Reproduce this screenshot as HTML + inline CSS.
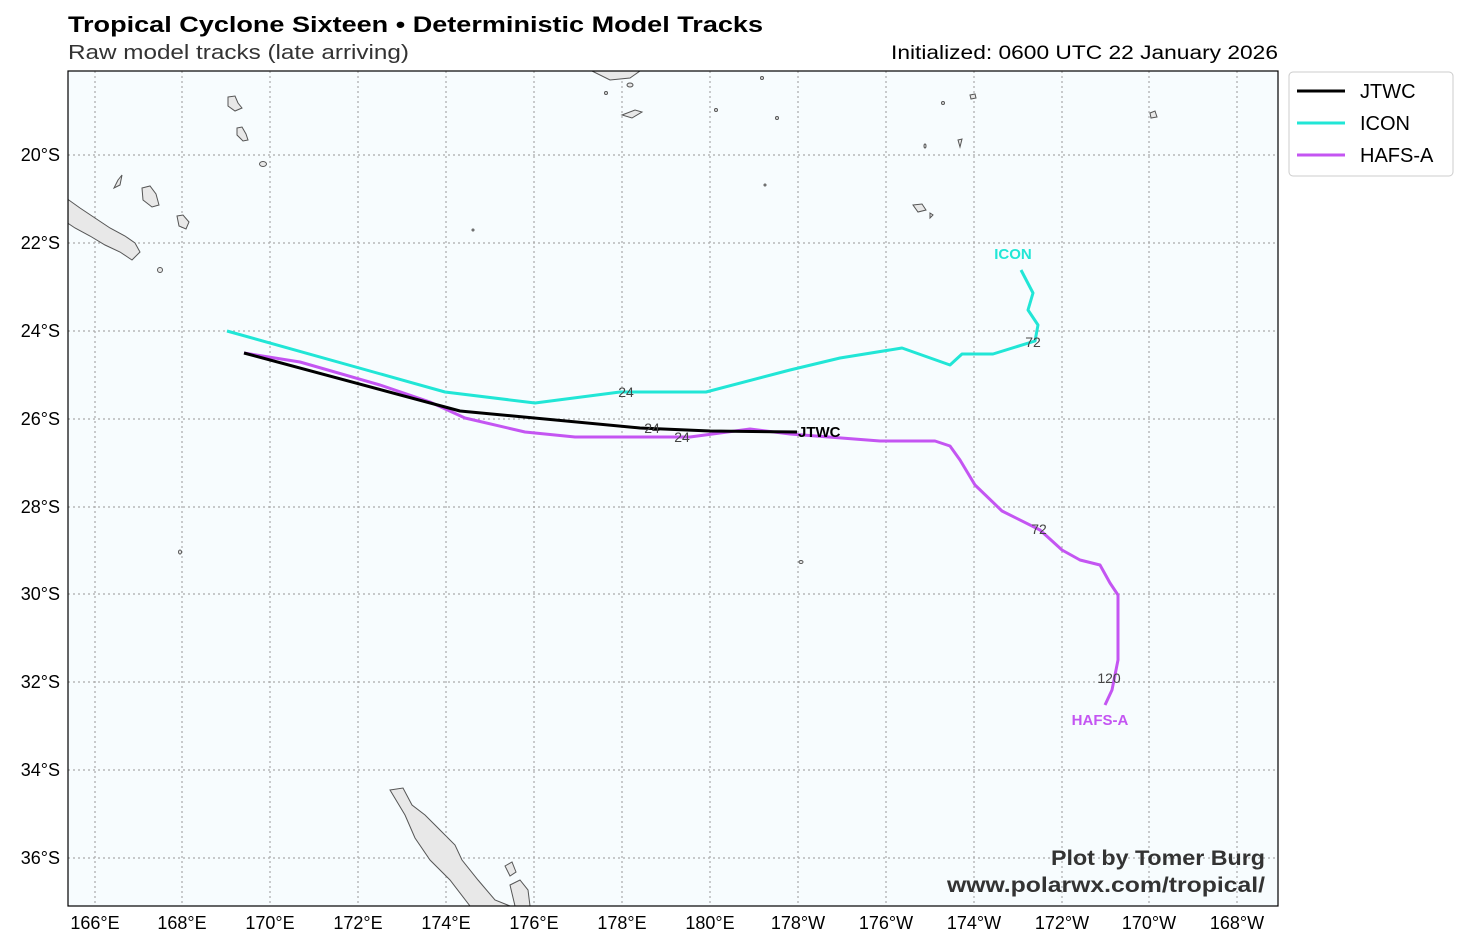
<!DOCTYPE html>
<html><head><meta charset="utf-8"><style>
body{margin:0;background:#fff;width:1465px;height:946px;overflow:hidden;font-family:"Liberation Sans",sans-serif}
</style></head><body>
<svg width="1465" height="946" xmlns="http://www.w3.org/2000/svg" font-family="Liberation Sans, sans-serif">
<text x="68" y="32" font-size="22" font-weight="bold" fill="#000" textLength="695" lengthAdjust="spacingAndGlyphs">Tropical Cyclone Sixteen • Deterministic Model Tracks</text>
<text x="68" y="59" font-size="20" fill="#333" textLength="341" lengthAdjust="spacingAndGlyphs">Raw model tracks (late arriving)</text>
<text x="891" y="59" font-size="19" fill="#000" textLength="387" lengthAdjust="spacingAndGlyphs">Initialized: 0600 UTC 22 January 2026</text>
<defs><clipPath id="c"><rect x="68" y="71" width="1210" height="835"/></clipPath></defs>
<rect x="68" y="71" width="1210" height="835" fill="#f7fcfe"/>
<g clip-path="url(#c)">
<g stroke="#aaa" stroke-width="1.2" stroke-dasharray="2,3">
<line x1="95" y1="71" x2="95" y2="906"/><line x1="182" y1="71" x2="182" y2="906"/><line x1="270" y1="71" x2="270" y2="906"/><line x1="358" y1="71" x2="358" y2="906"/><line x1="446" y1="71" x2="446" y2="906"/><line x1="534" y1="71" x2="534" y2="906"/><line x1="622" y1="71" x2="622" y2="906"/><line x1="710" y1="71" x2="710" y2="906"/><line x1="798" y1="71" x2="798" y2="906"/><line x1="886" y1="71" x2="886" y2="906"/><line x1="974" y1="71" x2="974" y2="906"/><line x1="1062" y1="71" x2="1062" y2="906"/><line x1="1149" y1="71" x2="1149" y2="906"/><line x1="1237" y1="71" x2="1237" y2="906"/>
<line x1="68" y1="155" x2="1278" y2="155"/><line x1="68" y1="243" x2="1278" y2="243"/><line x1="68" y1="331" x2="1278" y2="331"/><line x1="68" y1="419" x2="1278" y2="419"/><line x1="68" y1="507" x2="1278" y2="507"/><line x1="68" y1="594" x2="1278" y2="594"/><line x1="68" y1="682" x2="1278" y2="682"/><line x1="68" y1="770" x2="1278" y2="770"/><line x1="68" y1="858" x2="1278" y2="858"/>
</g>
<g fill="#e8e8e8" stroke="#555" stroke-width="1">
<path d="M66,198 L80,208 L95,218 L110,228 L125,236 L135,243 L140,252 L132,260 L120,252 L105,245 L90,236 L75,228 L66,222Z"/>
<path d="M228,97 L235,96 L238,103 L242,108 L235,111 L228,106Z"/>
<path d="M237,128 L242,127 L246,134 L248,140 L243,141 L237,135Z"/>
<ellipse cx="263" cy="164" rx="3.5" ry="2.5"/>
<path d="M142,188 L150,186 L156,194 L159,205 L152,207 L143,200Z"/>
<path d="M177,216 L183,215 L189,222 L186,229 L179,226Z"/>
<path d="M118,180 L122,175 L120,185 L114,188Z"/>
<ellipse cx="160" cy="270" rx="2.5" ry="2.5"/>
<path d="M390,790 L403,788 L412,805 L425,815 L440,830 L455,845 L462,860 L478,880 L495,900 L510,906 L470,906 L450,880 L430,860 L415,838 L405,815 L396,800Z"/>
<path d="M505,866 L512,862 L516,872 L510,876Z"/>
<path d="M510,885 L520,880 L528,890 L530,906 L515,906Z"/>
<path d="M592,71 L640,71 L630,78 L610,80Z"/>
<path d="M622,115 L635,110 L642,112 L632,118Z"/>
<ellipse cx="630" cy="85" rx="3" ry="2"/>
<path d="M913,205 L922,204 L926,210 L918,212Z"/>
<path d="M930,213 L933,215 L930,218Z"/>
<path d="M970,95 L975,94 L976,98 L971,99Z"/>
<path d="M1150,113 L1155,111 L1157,117 L1151,118Z"/>
<path d="M958,140 L962,139 L960,147Z"/>
<ellipse cx="943" cy="103" rx="1.5" ry="1.5"/><ellipse cx="762" cy="78" rx="1.5" ry="1.5"/><ellipse cx="716" cy="110" rx="1.5" ry="1.5"/><ellipse cx="801" cy="562" rx="2" ry="1.5"/><ellipse cx="180" cy="552" rx="1.5" ry="2"/><ellipse cx="606" cy="93" rx="1.5" ry="1.5"/><ellipse cx="777" cy="118" rx="1.5" ry="1.5"/><ellipse cx="765" cy="185" rx="1" ry="1"/><ellipse cx="473" cy="230" rx="1" ry="1"/><ellipse cx="925" cy="146" rx="1" ry="2"/>
</g>
<g fill="none" stroke-width="3" stroke-linejoin="round">
<polyline stroke="#21e6d6" points="227,331 445,392 535,403 620,392 706,392 790,370 840,358 902,348 950,365 962,354 993,354 1035,341 1038,325 1028,310 1033,293 1021,270"/>
<polyline stroke="#c455f2" points="244,353 300,362 380,385 430,402 465,418 525,432 575,437 690,437 750,429 790,434 880,441 935,441 950,446 960,460 975,485 1002,511 1040,530 1062,550 1080,560 1100,565 1110,583 1118,595 1118,660 1112,690 1105,705"/>
<polyline stroke="#000" points="244,353 460,411 640,428 710,431 797,432"/>
</g>
<g font-size="14" fill="#444" text-anchor="middle">
<text x="626" y="397">24</text><text x="652" y="433">24</text><text x="682" y="442">24</text><text x="1033" y="347">72</text><text x="1039" y="534">72</text><text x="1109" y="683">120</text>
</g>
<text x="798" y="437" font-size="15" font-weight="bold" fill="#000">JTWC</text>
<text x="1013" y="259" font-size="15" font-weight="bold" fill="#21e6d6" text-anchor="middle">ICON</text>
<text x="1100" y="725" font-size="15" font-weight="bold" fill="#c455f2" text-anchor="middle">HAFS-A</text>
<text x="1265" y="865" font-size="21" font-weight="bold" fill="#333" text-anchor="end" textLength="214" lengthAdjust="spacingAndGlyphs">Plot by Tomer Burg</text>
<text x="1265" y="892" font-size="21" font-weight="bold" fill="#333" text-anchor="end" textLength="318" lengthAdjust="spacingAndGlyphs">www.polarwx.com/tropical/</text>
</g>
<rect x="68" y="71" width="1210" height="835" fill="none" stroke="#000" stroke-width="1.2"/>
<g font-size="18" fill="#000" text-anchor="end">
<text x="60" y="161">20°S</text><text x="60" y="249">22°S</text><text x="60" y="337">24°S</text><text x="60" y="425">26°S</text><text x="60" y="513">28°S</text><text x="60" y="600">30°S</text><text x="60" y="688">32°S</text><text x="60" y="776">34°S</text><text x="60" y="864">36°S</text>
</g>
<g font-size="18" fill="#000" text-anchor="middle">
<text x="95" y="929">166°E</text><text x="182" y="929">168°E</text><text x="270" y="929">170°E</text><text x="358" y="929">172°E</text><text x="446" y="929">174°E</text><text x="534" y="929">176°E</text><text x="622" y="929">178°E</text><text x="710" y="929">180°E</text><text x="798" y="929">178°W</text><text x="886" y="929">176°W</text><text x="974" y="929">174°W</text><text x="1062" y="929">172°W</text><text x="1149" y="929">170°W</text><text x="1237" y="929">168°W</text>
</g>
<rect x="1289" y="72" width="164" height="104" rx="4" fill="#fff" stroke="#ccc"/>
<line x1="1297" y1="91" x2="1345" y2="91" stroke="#000" stroke-width="3"/>
<line x1="1297" y1="123" x2="1345" y2="123" stroke="#21e6d6" stroke-width="3"/>
<line x1="1297" y1="155" x2="1345" y2="155" stroke="#c455f2" stroke-width="3"/>
<g font-size="20" fill="#000"><text x="1360" y="98">JTWC</text><text x="1360" y="130">ICON</text><text x="1360" y="162">HAFS-A</text></g>
</svg>
</body></html>
